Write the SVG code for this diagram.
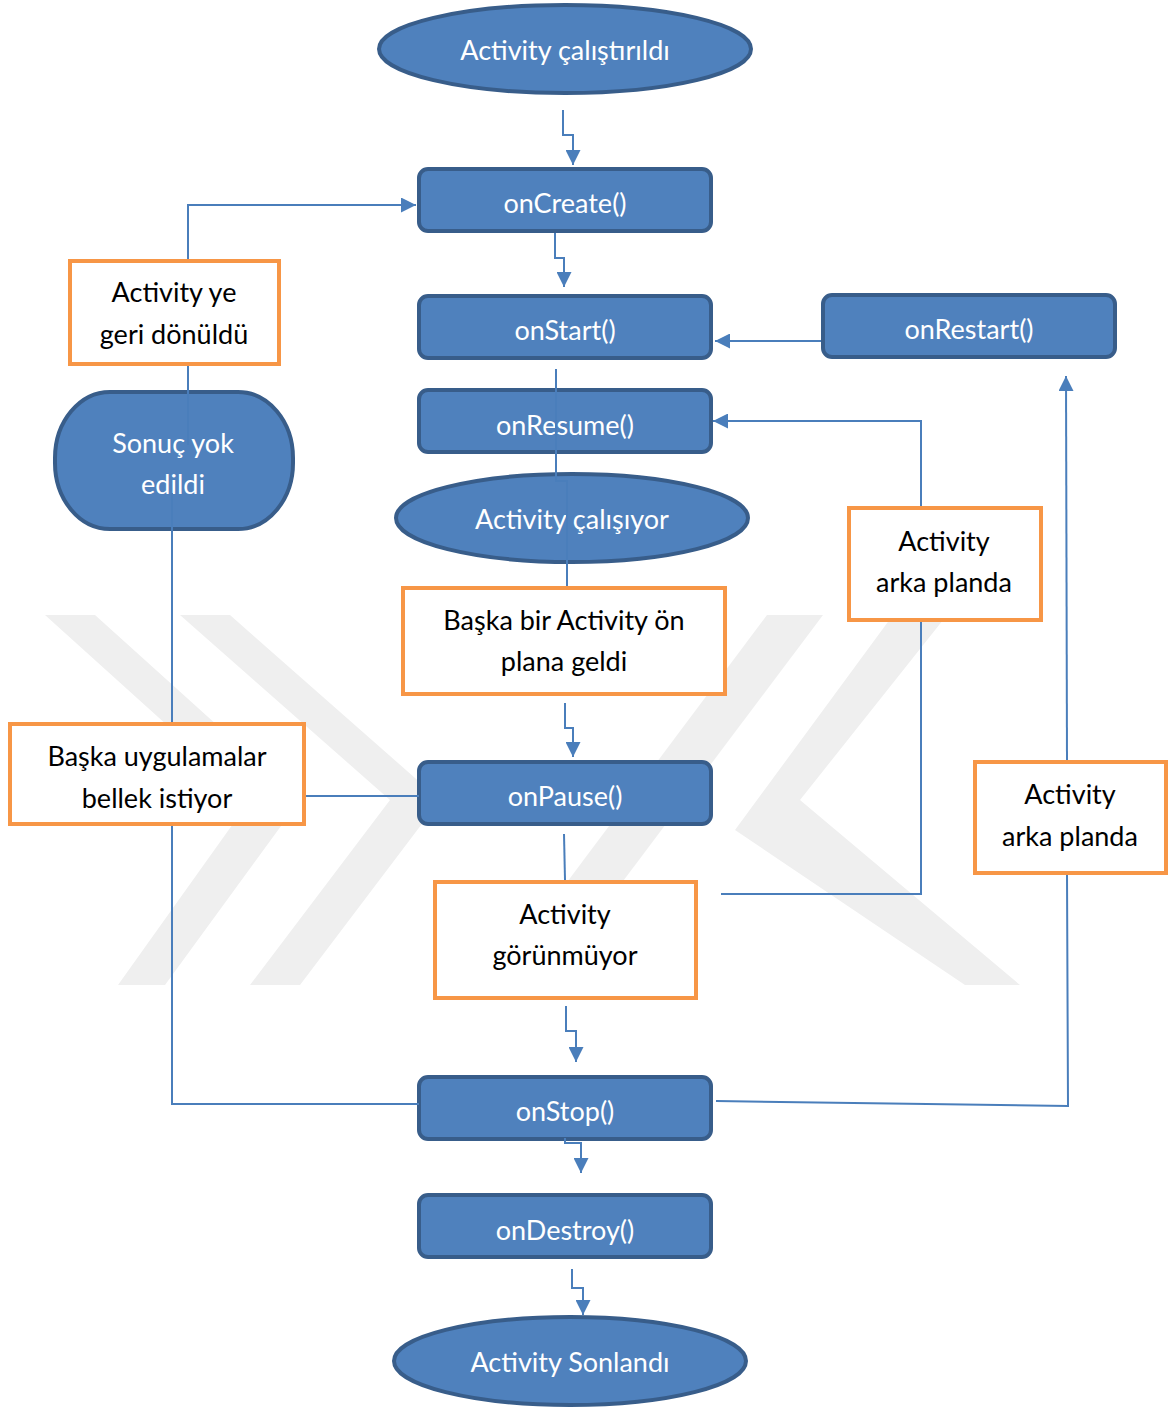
<svg xmlns="http://www.w3.org/2000/svg" width="1172" height="1410" viewBox="0 0 1172 1410">
<defs>
<marker id="ah" viewBox="0 0 10 10" refX="10" refY="5" markerWidth="5" markerHeight="5" markerUnits="userSpaceOnUse" orient="auto">
<path d="M0,0 L10,5 L0,10 z" fill="#4a7ebb"/>
</marker>
<marker id="ahb" viewBox="0 0 10 10" refX="10" refY="5" markerWidth="15" markerHeight="15" markerUnits="userSpaceOnUse" orient="auto">
<path d="M0,0 L10,5 L0,10 z" fill="#4a7ebb"/>
</marker>
</defs>
<style>
.wm{fill:#efefef}
.blue{fill:#4f81bd;stroke:#385d8a;stroke-width:4}
.org{fill:#ffffff;stroke:#f79646;stroke-width:4}
.wt{font-family:Lato,"Liberation Sans",sans-serif;font-size:27px;fill:#ffffff;text-anchor:middle;dominant-baseline:central}
.bt{font-family:Lato,"Liberation Sans",sans-serif;font-size:27px;fill:#000000;text-anchor:middle;dominant-baseline:central}
.cn{fill:none;stroke:#4a7ebb;stroke-width:2}
.ar{fill:none;stroke:#4a7ebb;stroke-width:2;marker-end:url(#ahb)}
</style>
<rect width="1172" height="1410" fill="#ffffff"/>
<g id="watermark">
<polygon class="wm" points="45,615 95,615 300,800 165,985 118,985 250,800"/>
<polygon class="wm" points="180,615 230,615 440,800 300,985 250,985 390,800"/>
<polygon class="wm" points="490,985 545,985 823,615 767,615"/>
<polygon class="wm" points="893,615 947,615 800,800 1020,985 965,985 735,830"/>
</g>
<g id="n-start"><ellipse class="blue" cx="565" cy="49" rx="186" ry="44"/><text class="wt" x="565" y="49">Activity çalıştırıldı</text></g>
<g id="n-oncreate"><rect class="blue" x="419" y="169" width="292" height="62" rx="9"/><text class="wt" x="565" y="202">onCreate()</text></g>
<g id="n-onstart"><rect class="blue" x="419" y="296" width="292" height="62" rx="9"/><text class="wt" x="565" y="329">onStart()</text></g>
<g id="n-onrestart"><rect class="blue" x="823" y="295" width="292" height="62" rx="9"/><text class="wt" x="969" y="328">onRestart()</text></g>
<g id="n-onresume"><rect class="blue" x="419" y="390" width="292" height="62" rx="9"/><text class="wt" x="565" y="424">onResume()</text></g>
<g id="n-running"><ellipse class="blue" cx="572" cy="518" rx="176" ry="44"/><text class="wt" x="572" y="518">Activity çalışıyor</text></g>
<g id="n-onpause"><rect class="blue" x="419" y="762" width="292" height="62" rx="9"/><text class="wt" x="565" y="795">onPause()</text></g>
<g id="n-onstop"><rect class="blue" x="419" y="1077" width="292" height="62" rx="9"/><text class="wt" x="565" y="1110">onStop()</text></g>
<g id="n-ondestroy"><rect class="blue" x="419" y="1195" width="292" height="62" rx="9"/><text class="wt" x="565" y="1229">onDestroy()</text></g>
<g id="n-end"><ellipse class="blue" cx="570" cy="1361" rx="176" ry="44"/><text class="wt" x="570" y="1361">Activity Sonlandı</text></g>
<g id="n-killed"><rect class="blue" x="55" y="392" width="238" height="137" rx="55" ry="66"/><text class="wt" x="173" y="442">Sonuç yok</text><text class="wt" x="173" y="483">edildi</text></g>
<g id="connectors">
<path class="ar" d="M563,110 V135 H573 V165"/>
<path class="ar" d="M555,233 V258 H564 V287"/>
<path class="ar" d="M821,341 H715"/>
<path class="ar" d="M921,507 V421 H713"/>
<path class="cn" d="M921,621 V894 H721"/>
<path class="cn" d="M556,369 V481 H567 V587"/>
<path class="ar" d="M565,703 V728 H573 V757"/>
<path class="cn" d="M305,796 H419"/>
<path class="cn" d="M564,834 L565,880"/>
<path class="ar" d="M566,1006 V1031 H576 V1062"/>
<path class="cn" d="M419,1104 H172 V493"/>
<path class="ar" d="M188,445 V205 H416"/>
<path class="cn" d="M716,1101 L1068,1106 L1067,874"/>
<path class="ar" d="M1067,762 L1066,376"/>
<path class="ar" d="M565,1138 V1143 H581 V1173"/>
<path class="ar" d="M572,1269 V1288 H583 V1315"/>
</g>
<g id="n-returned"><rect class="org" x="70" y="261" width="209" height="103"/><text class="bt" x="174" y="291">Activity ye</text><text class="bt" x="174" y="333">geri dönüldü</text></g>
<g id="n-foreground"><rect class="org" x="403" y="588" width="322" height="106"/><text class="bt" x="564" y="619">Başka bir Activity ön</text><text class="bt" x="564" y="660">plana geldi</text></g>
<g id="n-memory"><rect class="org" x="10" y="724" width="294" height="100"/><text class="bt" x="157" y="755">Başka uygulamalar</text><text class="bt" x="157" y="797">bellek istiyor</text></g>
<g id="n-invisible"><rect class="org" x="435" y="882" width="261" height="116"/><text class="bt" x="565" y="913">Activity</text><text class="bt" x="565" y="954">görünmüyor</text></g>
<g id="n-back1"><rect class="org" x="849" y="508" width="192" height="112"/><text class="bt" x="944" y="540">Activity</text><text class="bt" x="944" y="581">arka planda</text></g>
<g id="n-back2"><rect class="org" x="975" y="762" width="191" height="111"/><text class="bt" x="1070" y="793">Activity</text><text class="bt" x="1070" y="835">arka planda</text></g>
</svg>
